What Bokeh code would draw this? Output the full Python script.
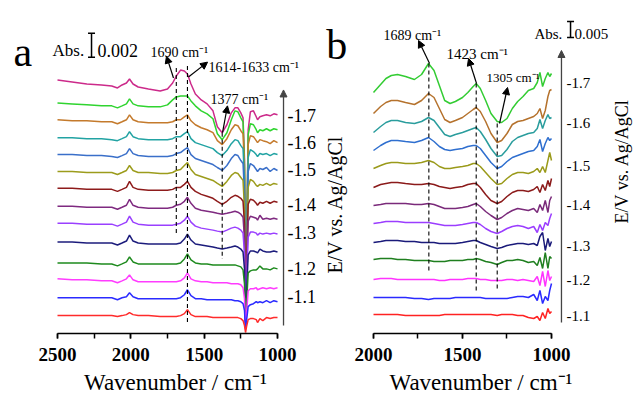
import math
from bokeh.plotting import figure
from bokeh.layouts import row
from bokeh.models import (Range1d, SingleIntervalTicker, Label, Arrow, NormalHead, TeeHead)
from bokeh.embed import file_html
from bokeh.resources import INLINE

SERIF = "Liberation Serif"

# ---------------- panel a data (offset absorbance, read downward) ----------------
wn_a = [2500, 2400, 2300, 2200, 2130, 2091, 2060, 2030, 2009, 1985, 1950, 1880, 1800,
        1750, 1715, 1690, 1661, 1635, 1614, 1590, 1560, 1520, 1480, 1440, 1410, 1377,
        1345, 1315, 1290, 1270, 1250, 1235, 1225, 1218, 1211, 1200, 1185, 1164, 1145,
        1136, 1120, 1100, 1075, 1050, 1025, 1000]

a_m170 = [80, 82, 84, 85, 86, 88, 85, 83, 79, 84, 87, 89, 91, 89, 83, 76, 70, 71, 74, 84,
          94, 100, 104, 111, 127, 133, 125, 113, 108, 108, 113, 118, 160, 318, 250, 130,
          112, 111, 117, 120, 117, 116, 115, 116, 114, 115]
a_m165 = [103, 104, 105, 106, 106, 108, 106, 104, 99, 104, 106, 107, 107, 105, 100, 97, 96,
          96, 96, 101, 106, 111, 114, 119, 134, 140, 133, 120, 111, 112, 118, 122, 165, 318,
          250, 135, 124, 125, 130, 133, 130, 131, 129, 131, 129, 130]
a_m160 = [120, 121, 121, 122, 122, 124, 122, 120, 115, 120, 122, 123, 123, 123, 122, 120,
          120, 117, 115, 121, 125, 128, 130, 133, 141, 145, 139, 130, 125, 126, 131, 134,
          170, 319, 250, 145, 136, 137, 141, 143, 140, 141, 142, 144, 141, 143]
a_m155 = [138, 138, 139, 139, 140, 141, 139, 137, 132, 137, 139, 140, 140, 140, 139, 137,
          137, 134, 132, 139, 143, 145, 147, 149, 153, 156, 151, 144, 140, 141, 146, 149,
          180, 319, 255, 158, 150, 152, 155, 157, 154, 155, 154, 156, 154, 155]
a_m150 = [155, 155, 156, 156, 157, 158, 156, 154, 149, 154, 156, 157, 157, 157, 156, 154,
          153, 150, 148, 155, 159, 161, 163, 165, 168, 171, 166, 159, 155, 156, 161, 164,
          195, 320, 260, 172, 164, 166, 170, 172, 169, 170, 168, 172, 169, 171]
a_m145 = [172, 172, 173, 173, 173, 175, 173, 171, 166, 171, 173, 173, 174, 174, 173, 171,
          170, 166, 163, 170, 175, 177, 179, 181, 184, 187, 182, 176, 173, 174, 178, 181,
          210, 320, 265, 188, 180, 182, 186, 187, 185, 186, 184, 186, 184, 185]
a_m140 = [189, 189, 190, 190, 190, 192, 190, 188, 182, 188, 190, 191, 191, 191, 190, 188,
          188, 185, 182, 188, 192, 195, 197, 199, 202, 205, 202, 198, 196, 197, 199, 202,
          225, 321, 270, 205, 200, 201, 204, 206, 203, 204, 202, 204, 202, 203]
a_m135 = [207, 207, 208, 208, 208, 210, 208, 206, 200, 206, 208, 209, 209, 209, 208, 206,
          205, 202, 198, 204, 209, 211, 212, 213, 214, 215, 214, 213, 212, 213, 215, 218,
          240, 322, 275, 222, 217, 218, 219, 221, 216, 220, 219, 220, 219, 220]
a_m130 = [224, 224, 225, 225, 225, 227, 225, 223, 217, 223, 225, 226, 226, 226, 226, 225,
          224, 221, 217, 223, 227, 229, 230, 231, 232, 233, 231, 229, 228, 229, 231, 234,
          255, 323, 285, 238, 233, 233, 234, 236, 234, 235, 234, 235, 234, 235]
a_m125 = [243, 243, 244, 244, 244, 246, 244, 242, 236, 242, 244, 245, 245, 245, 245, 245,
          244, 240, 235, 241, 245, 246, 247, 248, 249, 250, 249, 248, 247, 248, 250, 253,
          270, 325, 295, 256, 252, 252, 253, 254, 250, 252, 253, 253, 252, 253]
a_m120 = [264, 264, 264, 265, 265, 267, 265, 263, 258, 263, 265, 265, 265, 265, 265, 265,
          264, 260, 255, 261, 264, 265, 265, 266, 266, 266, 266, 266, 266, 267, 268, 271,
          285, 327, 305, 274, 272, 271, 271, 270, 267, 270, 270, 271, 269, 270]
a_m115 = [280, 281, 281, 282, 282, 284, 282, 280, 276, 281, 283, 283, 283, 283, 283, 283,
          282, 279, 274, 280, 282, 283, 283, 284, 284, 284, 284, 285, 285, 285, 286, 289,
          300, 329, 315, 292, 290, 290, 289, 291, 290, 289, 290, 289, 290, 289]
a_m110 = [299, 299, 299, 299, 299, 301, 299, 298, 294, 298, 300, 300, 300, 300, 300, 300,
          299, 296, 291, 297, 300, 300, 301, 301, 301, 301, 301, 301, 302, 302, 303, 305,
          312, 331, 322, 308, 306, 305, 303, 304, 303, 304, 302, 304, 302, 303]
a_m105 = [317, 317, 317, 317, 317, 318, 317, 316, 314, 316, 317, 317, 318, 318, 318, 318,
          317, 315, 311, 316, 318, 318, 318, 319, 319, 319, 319, 319, 319, 319, 320, 322,
          327, 334, 328, 321, 320, 320, 321, 324, 320, 322, 319, 320, 319, 319]

a_series = [a_m170, a_m165, a_m160, a_m155, a_m150, a_m145, a_m140,
            a_m135, a_m130, a_m125, a_m120, a_m115, a_m110, a_m105]
a_colors = ["#cc2a8a", "#2fd42f", "#c47a2c", "#22a3a3", "#3a6fc9", "#9c9c1c", "#8e1b1b",
            "#7f2a80", "#9a40ff", "#1c1c7c", "#1e8a1e", "#ff3cff", "#2b2bff", "#ff2b2b"]
a_label_pos = [116, 143, 170, 205, 233, 270, 298]
a_label_txt = ["-1.7", "-1.6", "-1.5", "-1.4", "-1.3", "-1.2", "-1.1"]

# ---------------- panel b data ----------------
wn_b = [2000, 1960, 1930, 1900, 1865, 1820, 1770, 1730, 1691, 1660, 1630, 1600, 1570,
        1540, 1500, 1470, 1440, 1423, 1400, 1370, 1340, 1305, 1280, 1250, 1220, 1190,
        1160, 1130, 1100, 1080, 1065, 1050, 1035, 1020, 1010, 1000]

b_m170 = [92, 84, 78, 75, 74, 76, 79, 74, 63, 70, 85, 100, 103, 101, 97, 92, 86, 83, 88,
          100, 113, 121, 122, 118, 108, 101, 96, 90, 88, 82, 72, 86, 78, 72, 76, 73]
b_m165 = [113, 106, 102, 100, 100, 102, 104, 100, 93, 97, 108, 119, 122, 120, 117, 113,
          109, 107, 111, 121, 133, 142, 140, 133, 124, 121, 120, 118, 116, 113, 108, 118,
          110, 96, 90, 89]
b_m160 = [132, 126, 122, 120, 120, 122, 123, 121, 117, 120, 127, 134, 136, 134, 132, 130,
          128, 127, 131, 139, 148, 156, 155, 149, 141, 137, 135, 133, 132, 128, 119, 128,
          120, 114, 118, 117]
b_m155 = [150, 145, 142, 140, 140, 141, 142, 140, 137, 141, 146, 149, 150, 149, 148, 146,
          145, 145, 148, 155, 162, 168, 166, 161, 157, 155, 153, 151, 150, 146, 139, 151,
          143, 137, 140, 138]
b_m150 = [168, 165, 163, 162, 162, 163, 163, 162, 160, 162, 166, 168, 168, 167, 166, 165,
          163, 163, 166, 172, 178, 184, 183, 178, 174, 172, 172, 173, 171, 168, 172, 166,
          172, 160, 152, 160]
b_m145 = [187, 184, 183, 182, 182, 183, 184, 184, 183, 184, 186, 187, 188, 187, 186, 184,
          183, 183, 187, 194, 200, 203, 201, 196, 192, 190, 190, 191, 189, 186, 192, 184,
          190, 180, 186, 178]
b_m140 = [205, 204, 203, 203, 203, 203, 204, 204, 203, 204, 206, 208, 208, 208, 207, 206,
          204, 203, 206, 211, 215, 219, 217, 213, 210, 208, 209, 210, 208, 212, 204, 210,
          200, 212, 200, 196]
b_m135 = [223, 222, 221, 221, 221, 222, 222, 222, 222, 223, 224, 225, 225, 225, 224, 223,
          222, 222, 224, 228, 231, 233, 231, 228, 226, 225, 226, 228, 226, 232, 224, 230,
          222, 225, 218, 213]
b_m130 = [242, 241, 240, 240, 240, 241, 241, 242, 242, 242, 243, 243, 243, 243, 242, 241,
          240, 240, 242, 244, 246, 248, 247, 245, 244, 243, 243, 244, 243, 245, 236, 232,
          250, 238, 246, 241]
b_m125 = [259, 258, 258, 258, 259, 259, 260, 260, 260, 261, 261, 261, 260, 260, 260, 259,
          259, 258, 259, 261, 262, 264, 262, 260, 260, 259, 260, 262, 261, 265, 257, 268,
          252, 268, 256, 258]
b_m120 = [279, 278, 278, 278, 279, 279, 279, 279, 279, 279, 280, 280, 279, 279, 279, 278,
          278, 278, 279, 279, 280, 280, 280, 279, 279, 280, 279, 280, 281, 276, 285, 271,
          286, 270, 280, 276]
b_m115 = [297, 297, 297, 297, 297, 297, 298, 298, 299, 298, 298, 298, 298, 297, 297, 297,
          297, 297, 297, 298, 298, 298, 298, 298, 297, 296, 296, 297, 294, 300, 290, 303,
          296, 300, 290, 283]
b_m110 = [314, 314, 314, 314, 314, 315, 315, 315, 315, 315, 315, 314, 314, 314, 314, 314,
          314, 314, 314, 314, 314, 315, 314, 314, 314, 315, 315, 317, 318, 316, 320, 312,
          318, 308, 313, 311]

b_series = [b_m170, b_m165, b_m160, b_m155, b_m150, b_m145, b_m140,
            b_m135, b_m130, b_m125, b_m120, b_m115, b_m110]
b_colors = ["#33cc33", "#b5722d", "#2a9d9d", "#2f6fcf", "#9a9a1a", "#8b1a1a", "#7a2a7a",
            "#9b3dff", "#1a1a7a", "#1f7f1f", "#ff33ff", "#2a2aff", "#ff2222"]
b_label_pos = [82, 122, 165, 204, 245, 279, 315]
b_label_txt = ["-1.7", "-1.6", "-1.5", "-1.4", "-1.3", "-1.2", "-1.1"]


def style_x(p, lo, hi):
    ax = p.xaxis[0]
    ax.bounds = (lo, hi)
    ax.ticker = SingleIntervalTicker(interval=500, num_minor_ticks=2)
    ax.axis_label = "Wavenumber / cm\u207b\u00b9"
    ax.axis_label_text_font = SERIF
    ax.axis_label_text_font_size = "23px"
    ax.axis_label_text_font_style = "normal"
    ax.axis_label_text_color = "black"
    ax.axis_label_standoff = 6
    ax.major_label_text_font = SERIF
    ax.major_label_text_font_size = "19px"
    ax.major_label_text_font_style = "bold"
    ax.major_label_text_color = "black"
    ax.major_label_standoff = 9
    ax.major_tick_in = 0
    ax.major_tick_out = 5
    ax.minor_tick_in = 0
    ax.minor_tick_out = 5
    ax.axis_line_width = 1.5
    ax.major_tick_line_width = 1.5
    ax.minor_tick_line_width = 1.5
    ax.axis_line_color = "black"
    ax.major_tick_line_color = "black"
    ax.minor_tick_line_color = "black"


def label(p, x, y, text, size, align="left", baseline="alphabetic", angle=0.0):
    p.add_layout(Label(x=x, y=y, text=text, text_font=SERIF, text_font_size=size,
                       text_color="black", text_align=align, text_baseline=baseline,
                       angle=angle))


def arrow(p, x0, y0, x1, y1, head=7, width=1.2, color="black"):
    p.add_layout(Arrow(end=NormalHead(size=head, fill_color=color, line_color=color),
                       x_start=x0, y_start=y0, x_end=x1, y_end=y1,
                       line_color=color, line_width=width))


def scalebar(p, x, y0, y1):
    p.add_layout(Arrow(start=TeeHead(size=7, line_width=1.5, line_color="black"),
                       end=TeeHead(size=7, line_width=1.5, line_color="black"),
                       x_start=x, y_start=y0, x_end=x, y_end=y1,
                       line_color="black", line_width=1.5))


def make_fig(w, xr, yr, bottom, xaxis=True):
    p = figure(width=w, height=398, output_backend="svg", toolbar_location=None,
               x_range=xr, y_range=yr, y_axis_location=None,
               x_axis_location="below" if xaxis else None,
               min_border_left=0, min_border_right=0, min_border_top=0,
               min_border_bottom=bottom)
    p.outline_line_color = None
    p.grid.visible = False
    p.background_fill_color = "white"
    return p


# ---------------- panel a ----------------
pa = make_fig(350, Range1d(2888.6, 502.3), Range1d(335, 0), 63)
style_x(pa, 1000, 2500)

for ys, c in zip(a_series, a_colors):
    pa.line(wn_a, ys, line_color=c, line_width=1.5)

a_dash_x = [1690, 1614, 1377]
a_dash_top = [68, 66, 133]
a_dash_bot = [235, 325, 260]
pa.segment(x0=a_dash_x, y0=a_dash_top, x1=a_dash_x, y1=a_dash_bot,
           line_color="black", line_width=1.1, line_dash="4 3")

arrow(pa, 1709, 78, 1757, 56)
arrow(pa, 1607, 77, 1477, 62)
arrow(pa, 1375, 133, 1341, 106)
arrow(pa, 959, 327, 959, 90, head=7, width=1.3, color="#444444")
scalebar(pa, 2268, 57, 33)
label(pa, 2800, 52, "a", "42px")
label(pa, 2534, 50, "Abs.", "17px")
label(pa, 2227, 50, "0.002", "18px")
label(pa, 1866, 52, "1690 cm\u207b\u00b9", "14px")
label(pa, 1470, 67, "1614-1633 cm\u207b\u00b9", "14px")
label(pa, 1457, 100, "1377 cm\u207b\u00b9", "14px")
for yv, t in zip(a_label_pos, a_label_txt):
    label(pa, 932, yv, t, "18px", baseline="middle")
label(pa, 611, 205, "E/V vs. Ag/AgCl", "20px", align="center", baseline="middle",
      angle=math.pi / 2)
# panel letter of b sits just left of panel b's figure area
label(pa, 668, 45, "b", "42px")

# ---------------- panel b ----------------
pb = make_fig(261, Range1d(2129.2, 662.9), Range1d(333, 0), 65)
style_x(pb, 1000, 2000)

for ys, c in zip(b_series, b_colors):
    pb.line(wn_b, ys, line_color=c, line_width=1.5)

b_dash_x = [1689, 1423, 1305]
b_dash_top = [63, 83, 123]
b_dash_bot = [270, 290, 288]
pb.segment(x0=b_dash_x, y0=b_dash_top, x1=b_dash_x, y1=b_dash_bot,
           line_color="black", line_width=1.1, line_dash="4 3")

arrow(pb, 1685, 63, 1747, 40)
arrow(pb, 1421, 83, 1466, 58)
arrow(pb, 1292, 123, 1247, 87)
arrow(pb, 944, 322, 944, 50, head=7, width=1.3, color="#444444")
scalebar(pb, 893, 37, 21)
label(pb, 1944, 35, "1689 cm\u207b\u00b9", "14px")
label(pb, 1590, 53, "1423 cm\u207b\u00b9", "15px")
label(pb, 1365, 77, "1305 cm\u207b\u00b9", "13px")
label(pb, 1096, 33, "Abs.", "15px")
label(pb, 871, 33, "0.005", "15px")
for yv, t in zip(b_label_pos, b_label_txt):
    label(pb, 916, yv, t, "15px", baseline="middle")

# ---------------- panel b potential-axis title (narrow strip at the right) ----------------
pc = make_fig(25, Range1d(0, 25), Range1d(398, 0), 0, xaxis=False)
label(pc, 10, 192, "E/V vs. Ag/AgCl", "18px", align="center", baseline="middle",
      angle=math.pi / 2)

layout = row(pa, pb, pc)
open("out.html", "w").write(file_html(layout, INLINE))
